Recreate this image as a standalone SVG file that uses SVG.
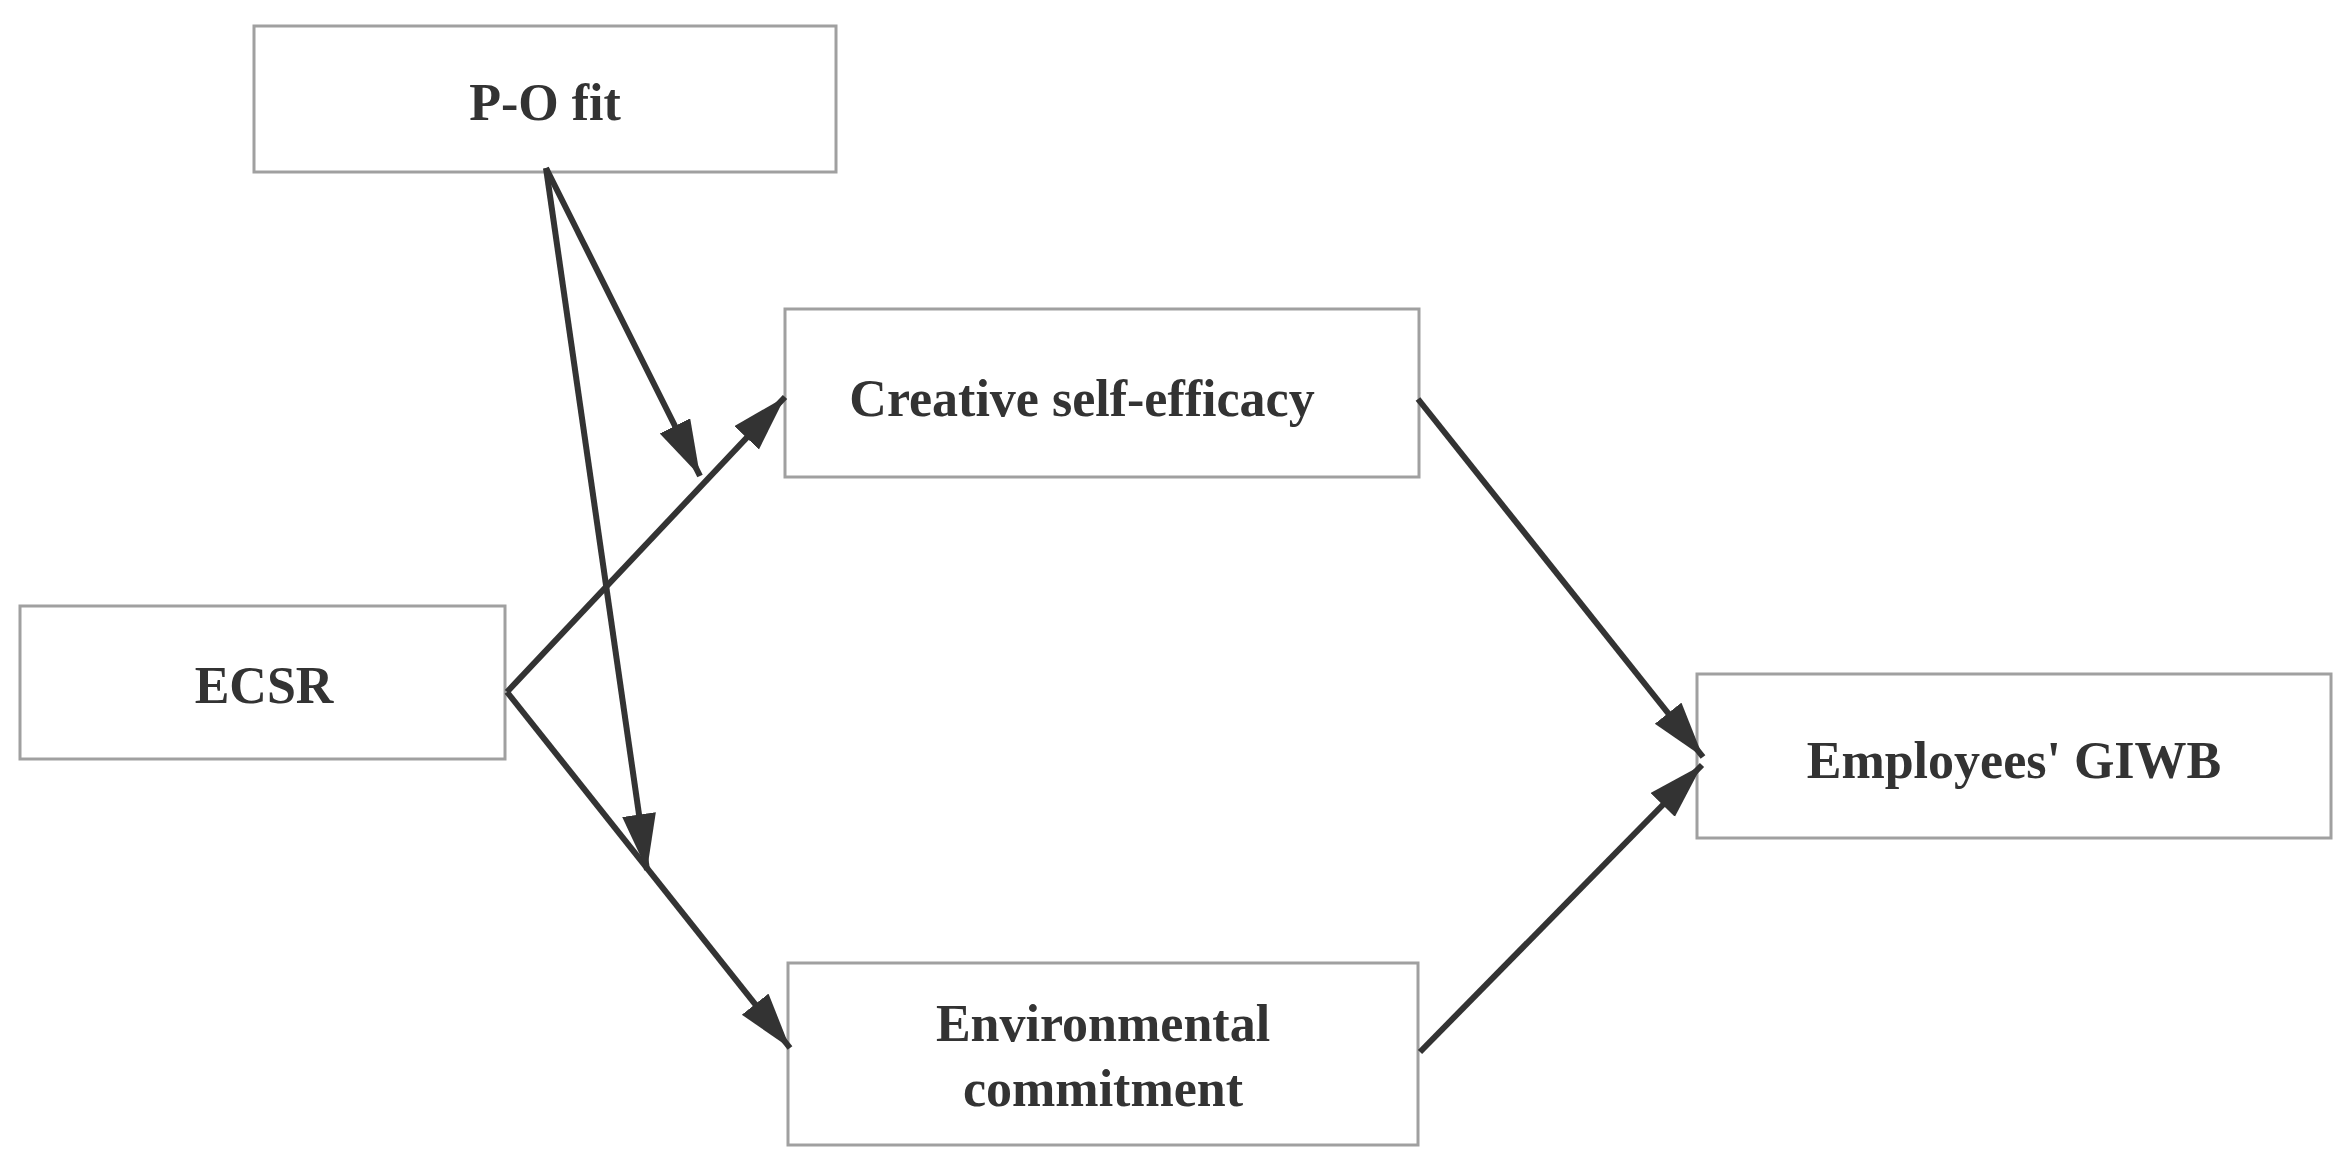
<svg xmlns="http://www.w3.org/2000/svg" width="2347" height="1163" viewBox="0 0 2347 1163">
<style>
.box{fill:#fff;stroke:#a0a0a0;stroke-width:3}
.lbl{font-family:'Liberation Serif',serif;font-weight:bold;font-size:52px;fill:#333;text-anchor:middle}
.con{stroke:#333;stroke-width:6;fill:none;marker-end:url(#ah)}
</style>
<defs>
<marker id="ah" markerUnits="userSpaceOnUse" markerWidth="58" markerHeight="36" refX="56" refY="17" orient="auto">
<path d="M0,0 L56,17 L0,34 Z" fill="#333"/>
</marker>
</defs>
<rect width="2347" height="1163" fill="#fff"/>
<g id="po">
<rect class="box" x="254" y="26" width="582" height="146"/>
<text class="lbl" font-family="'Liberation Serif', serif" x="545" y="120">P-O fit</text>
</g>
<g id="cse">
<rect class="box" x="785" y="309" width="634" height="168"/>
<text class="lbl" font-family="'Liberation Serif', serif" x="1082" y="416">Creative self-efficacy</text>
</g>
<g id="ecsr">
<rect class="box" x="20" y="606" width="485" height="153"/>
<text class="lbl" font-family="'Liberation Serif', serif" x="264" y="703">ECSR</text>
</g>
<g id="env">
<rect class="box" x="788" y="963" width="630" height="182"/>
<text class="lbl" font-family="'Liberation Serif', serif" x="1103" y="1041">Environmental</text>
<text class="lbl" font-family="'Liberation Serif', serif" x="1103" y="1106">commitment</text>
</g>
<g id="giwb">
<rect class="box" x="1697" y="674" width="634" height="164"/>
<text class="lbl" font-family="'Liberation Serif', serif" x="2014" y="778">Employees' GIWB</text>
</g>
<g id="connectors">
<line class="con" x1="507" y1="692" x2="785" y2="397"/>
<line class="con" x1="507" y1="692" x2="790" y2="1048"/>
<line class="con" x1="546" y1="168" x2="700" y2="476"/>
<line class="con" x1="546" y1="168" x2="647" y2="870"/>
<line class="con" x1="1418" y1="399" x2="1703" y2="757"/>
<line class="con" x1="1420" y1="1052" x2="1702" y2="765"/>
</g>
</svg>
